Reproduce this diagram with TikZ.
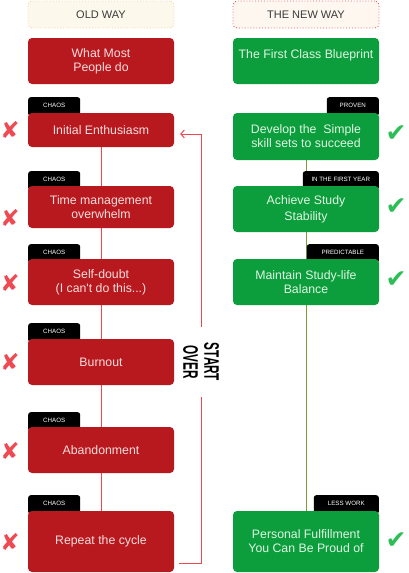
\documentclass[tikz,border=0pt]{standalone}
\usepackage{fontspec}
\setmainfont{Liberation Sans}
\newfontfamily\symfont{DejaVu Sans}
\newfontfamily\condfont[FakeStretch=0.56]{Liberation Sans Bold}
\usetikzlibrary{arrows.meta,positioning,calc,backgrounds}
\definecolor{oldred}{HTML}{B8191E}
\definecolor{newgreen}{HTML}{0C9E3D}
\definecolor{oldtext}{HTML}{F7DEDE}
\definecolor{newtext}{HTML}{DFF6E2}
\definecolor{linered}{HTML}{EF4650}
\definecolor{lineolive}{HTML}{7D9B3C}
\definecolor{crossred}{HTML}{EE4A52}
\definecolor{checkgreen}{HTML}{2DBE58}
\definecolor{oldhead}{HTML}{FCF8EC}
\definecolor{oldheadline}{HTML}{F2D7A6}
\definecolor{newhead}{HTML}{FDF7EF}
\definecolor{newheadline}{HTML}{E95A63}
\definecolor{headtext}{HTML}{3A3A3A}

\begin{document}
\begin{tikzpicture}[x=1pt,y=-1pt,
  head/.style={rectangle,rounded corners=4pt,dotted,line width=0.9pt,minimum width=146pt,
    minimum height=27pt,text=headtext,font=\fontsize{11}{12}\selectfont},
  oldbox/.style={rectangle,rounded corners=4pt,fill=oldred,text=oldtext,minimum width=146pt,
    inner sep=0pt,align=center,font=\fontsize{12.3}{14}\selectfont},
  newbox/.style={oldbox,fill=newgreen,text=newtext},
  tab/.style={rectangle,rounded corners=2.5pt,fill=black,text=white,inner xsep=0pt,inner ysep=3pt,
    text height=7.2pt,text depth=5.8pt,font=\fontsize{6.2}{7}\selectfont},
  oldline/.style={draw=linered,line width=1pt},
  newline/.style={draw=lineolive,line width=1pt},
  backloop/.style={oldline,-{Straight Barb[length=3.5pt,width=8pt]}},
  cross/.style={text=crossred,inner sep=0pt,font=\symfont\fontsize{23}{23}\selectfont},
  tick/.style={text=checkgreen,inner sep=0pt,font=\symfont\fontsize{25}{25}\selectfont}]
 \useasboundingbox (0,0) rectangle (408,573);
 % ---- headers ----
 \node[head,fill=oldhead,draw=oldheadline] (oh) at (101,14.5) {OLD WAY};
 \node[head,fill=newhead,draw=newheadline] (nh) at (306,14.5) {THE NEW WAY};
 % ---- old way ----
 \node[tab,anchor=north west,minimum width=52pt] (t1) at (28,97) {CHAOS};
 \node[tab,anchor=north west,minimum width=52pt] (t2) at (28,171) {CHAOS};
 \node[tab,anchor=north west,minimum width=52pt] (t3) at (28,244) {CHAOS};
 \node[tab,anchor=north west,minimum width=52pt] (t4) at (28,323) {CHAOS};
 \node[tab,anchor=north west,minimum width=52pt] (t5) at (28,412) {CHAOS};
 \node[tab,anchor=north west,minimum width=52pt] (t6) at (28,495) {CHAOS};
 \node[oldbox,minimum height=46pt] (wm) at (101,61) {What Most\\People do};
 \node[oldbox,minimum height=34pt] (ie) at (101,130) {Initial Enthusiasm};
 \node[oldbox,minimum height=42pt] (tm) at (101,207) {Time management\\overwhelm};
 \node[oldbox,minimum height=46pt] (sd) at (101,282) {Self-doubt\\(I can\textquotesingle t do this...)};
 \node[oldbox,minimum height=46pt] (bo) at (101,362) {Burnout};
 \node[oldbox,minimum height=46pt] (ab) at (101,450) {Abandonment};
 \node[oldbox,minimum height=61pt] (rc) at (101,541.5) {Repeat the cycle};
 % ---- new way ----
 \node[tab,anchor=north east,minimum width=52pt] (p1) at (379,97) {PROVEN};
 \node[tab,anchor=north east,minimum width=76pt] (p2) at (379,171) {IN THE FIRST YEAR};
 \node[tab,anchor=north east,minimum width=72pt] (p3) at (379,244) {PREDICTABLE};
 \node[tab,anchor=north east,minimum width=65pt] (p4) at (379,495) {LESS WORK};
 \node[newbox,minimum height=46pt] (bp) at (306,61) {The First Class Blueprint\\\mbox{}};
 \node[newbox,minimum height=47pt] (ds) at (306,136.5) {Develop the~ Simple\\skill sets to succeed};
 \node[newbox,minimum height=46pt,font=\fontsize{12.3}{16}\selectfont] (as) at (306,209) {Achieve Study\\Stability};
 \node[newbox,minimum height=46pt] (mb) at (306,282) {Maintain Study-life\\Balance};
 \node[newbox,minimum height=61pt] (pf) at (306,541.5) {Personal Fulfillment\\You Can Be Proud of};
 % ---- connectors ----
 \begin{scope}[on background layer]
 \draw[oldline] (ie)--(tm); \draw[oldline] (tm)--(sd);
 \draw[oldline] (sd)--(bo); \draw[oldline] (bo)--(ab);
 \draw[oldline] (ab)--(rc);
 \draw[newline] (ds)--(as); \draw[newline] (as)--(mb);
 \draw[newline] (mb)--(pf);
 \end{scope}
 \coordinate (lb) at ($(rc.south east)+(5,-9)$);
 \coordinate (lt) at ($(ie.east)+(6,4)$);
 \draw[backloop] (lb) -- ++(22,0) |- (lt);
 \node[fill=white,rotate=-90,align=center,inner xsep=16pt,inner ysep=1pt,
   font=\condfont\fontsize{21}{21}\selectfont] (so) at (201,362) {START\\OVER};
 % ---- marks ----
 \node[cross] (x1) at (10,130) {✘};
 \node[cross] (x2) at (10,218) {✘};
 \node[cross] (x3) at (10,283) {✘};
 \node[cross] (x4) at (10,362) {✘};
 \node[cross] (x5) at (10,451) {✘};
 \node[cross] (x6) at (10,542) {✘};
 \node[tick] (c1) at (396,134) {✔};
 \node[tick] (c2) at (396,207) {✔};
 \node[tick] (c3) at (396,280) {✔};
 \node[tick] (c4) at (396,541) {✔};
\end{tikzpicture}
\end{document}
